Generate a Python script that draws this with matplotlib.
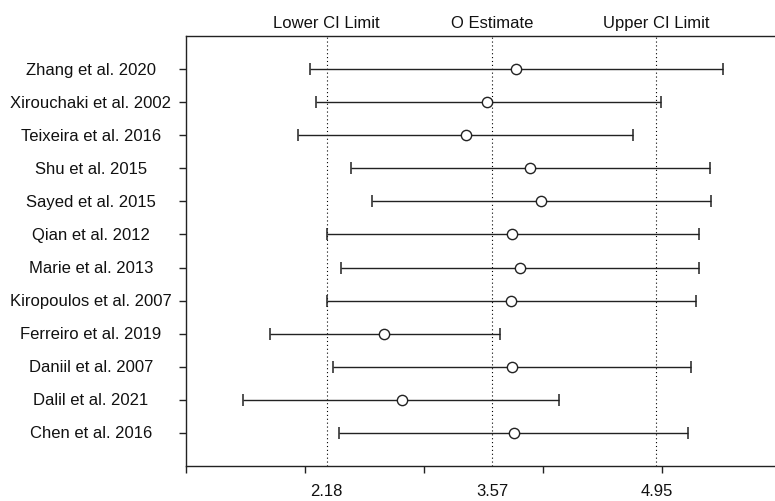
import matplotlib
matplotlib.use("Agg")
import matplotlib.pyplot as plt
from matplotlib.transforms import blended_transform_factory

plt.rcParams['font.family'] = ['Liberation Sans', 'DejaVu Sans']

studies = ["Chen et al. 2016", "Dalil et al. 2021", "Daniil et al. 2007",
           "Ferreiro et al. 2019", "Kiropoulos et al. 2007", "Marie et al. 2013",
           "Qian et al. 2012", "Sayed et al. 2015", "Shu et al. 2015",
           "Teixeira et al. 2016", "Xirouchaki et al. 2002", "Zhang et al. 2020"]
estimate = [3.75, 2.81, 3.74, 2.66, 3.73, 3.80, 3.74, 3.98, 3.89, 3.35, 3.53, 3.77]
lower = [2.28, 1.48, 2.23, 1.70, 2.18, 2.30, 2.18, 2.56, 2.38, 1.94, 2.09, 2.04]
upper = [5.22, 4.13, 5.24, 3.64, 5.28, 5.31, 5.31, 5.41, 5.40, 4.75, 4.99, 5.51]

ref_values = [2.18, 3.57, 4.95]
ref_labels = ["Lower CI Limit", "O Estimate", "Upper CI Limit"]
ref_ticklabels = ["2.18", "3.57", "4.95"]
axis_ticks = [1, 2, 3, 4, 5]

W, H = 775.0, 502.0
left_px, right_px = 186.3, 800.0
top_px, bot_px = 37.3, 466.7
px_per_unit = 119.0

fig = plt.figure(figsize=(7.75, 5.02), dpi=100)
ax = fig.add_axes([left_px / W, (H - bot_px) / H, (right_px - left_px) / W,
                   (bot_px - top_px) / H])

ypos = list(range(1, len(studies) + 1))

for v in ref_values:
    ax.axvline(v, color='black', linestyle=(0, (1, 2.5)), linewidth=0.8, zorder=1)

xerr = [[e - l for e, l in zip(estimate, lower)], [u - e for e, u in zip(estimate, upper)]]
ax.errorbar(estimate, ypos, xerr=xerr, fmt='none', ecolor='#222222',
            elinewidth=1.0, capsize=4.6, capthick=1.1, zorder=2)
ax.plot(estimate, ypos, 'o', markersize=7.4, markerfacecolor='white',
        markeredgecolor='#222222', markeredgewidth=1.0, zorder=3)

ax.set_xlim(1, 1 + (right_px - left_px) / px_per_unit)
ax.set_ylim(0, 13)

ax.spines['right'].set_visible(False)
for s in ['left', 'top', 'bottom']:
    ax.spines[s].set_linewidth(1.0)
    ax.spines[s].set_color('#222222')

ax.set_xticks(axis_ticks)
ax.set_xticklabels([])
ax.set_yticks(ypos)
ax.set_yticklabels([])
ax.tick_params(axis='both', direction='out', length=4.8, width=1.0, color='#222222')

trans_lab = blended_transform_factory(fig.transFigure, ax.transData)
for y, name in zip(ypos, studies):
    ax.text(91 / W, y, name, transform=trans_lab, ha='center', va='center',
            fontsize=12, color='#111111')

ax_h = bot_px - top_px
trans_top = blended_transform_factory(ax.transData, ax.transAxes)
for v, lab, tl in zip(ref_values, ref_labels, ref_ticklabels):
    ax.text(v, 1 + 9.5 / ax_h, lab, transform=trans_top, ha='center', va='baseline',
            fontsize=12, color='#111111')
    ax.text(v, -29 / ax_h, tl, transform=trans_top, ha='center', va='baseline',
            fontsize=12, color='#111111')

fig.savefig("out.png", dpi=100)
